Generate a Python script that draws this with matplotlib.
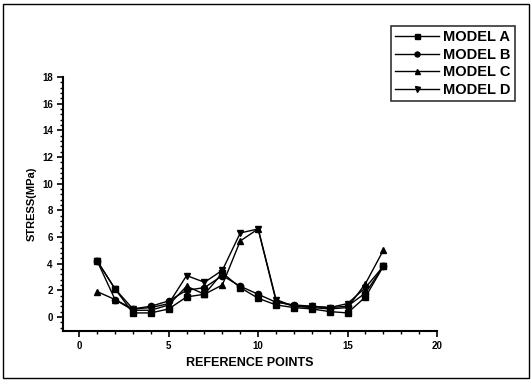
import numpy as np
import matplotlib.pyplot as plt
from matplotlib.patches import Rectangle
from matplotlib.ticker import MultipleLocator

points = np.arange(1, 18)
model_a = [4.2, 2.1, 0.3, 0.3, 0.6, 1.5, 1.7, 3.3, 2.2, 1.4, 0.9, 0.7, 0.6, 0.4, 0.3, 1.5, 3.8]
model_b = [4.2, 1.3, 0.6, 0.8, 1.2, 2.0, 2.2, 3.1, 2.3, 1.7, 1.1, 0.9, 0.8, 0.7, 0.8, 1.8, 3.8]
model_c = [1.9, 1.3, 0.5, 0.5, 0.9, 2.3, 1.7, 2.4, 5.7, 6.6, 1.2, 0.8, 0.7, 0.6, 0.7, 2.5, 5.0]
model_d = [4.2, 2.1, 0.6, 0.7, 1.0, 3.1, 2.6, 3.5, 6.3, 6.6, 1.3, 0.8, 0.8, 0.7, 1.0, 2.2, 3.8]

plt.rcParams["font.family"] = "Liberation Sans"
plt.rcParams["font.weight"] = "bold"

fig = plt.figure(figsize=(5.31, 3.83), dpi=100)
ax = fig.add_axes([0.119, 0.136, 0.704, 0.663])

ax.plot(points, model_a, color="k", lw=1, marker="s", ms=4.5, label="MODEL A")
ax.plot(points, model_b, color="k", lw=1, marker="o", ms=4.5, label="MODEL B")
ax.plot(points, model_c, color="k", lw=1, marker="^", ms=4.5, label="MODEL C")
ax.plot(points, model_d, color="k", lw=1, marker="v", ms=4.5, label="MODEL D")

ax.set_xlim(-0.9, 20)
ax.set_ylim(-1.05, 18)
ax.xaxis.set_major_locator(MultipleLocator(5))
ax.xaxis.set_minor_locator(MultipleLocator(1))
ax.yaxis.set_major_locator(MultipleLocator(2))
ax.yaxis.set_minor_locator(MultipleLocator(0.4))
ax.spines["top"].set_visible(False)
ax.spines["right"].set_visible(False)
ax.spines["left"].set_linewidth(1.5)
ax.spines["bottom"].set_linewidth(1.5)
ax.tick_params(which="major", direction="out", length=4, width=1.2, labelsize=7)
ax.tick_params(which="minor", direction="out", length=2, width=1)

ax.set_xlabel("REFERENCE POINTS", fontsize=9, fontweight="bold")
ax.set_ylabel("STRESS(MPa)", fontsize=8, fontweight="bold")

leg = fig.legend(loc="upper right", bbox_to_anchor=(0.984, 0.952), fontsize=10.5,
                 frameon=True, fancybox=False, edgecolor="k", handlelength=3.0,
                 borderpad=0.3, labelspacing=0.25, handletextpad=0.3, markerscale=0.8)
leg.get_frame().set_linewidth(1.2)

fig.patches.append(Rectangle((0.006, 0.012), 0.99, 0.978, transform=fig.transFigure,
                             fill=False, edgecolor="k", lw=1))

fig.savefig("out.png", dpi=100)
